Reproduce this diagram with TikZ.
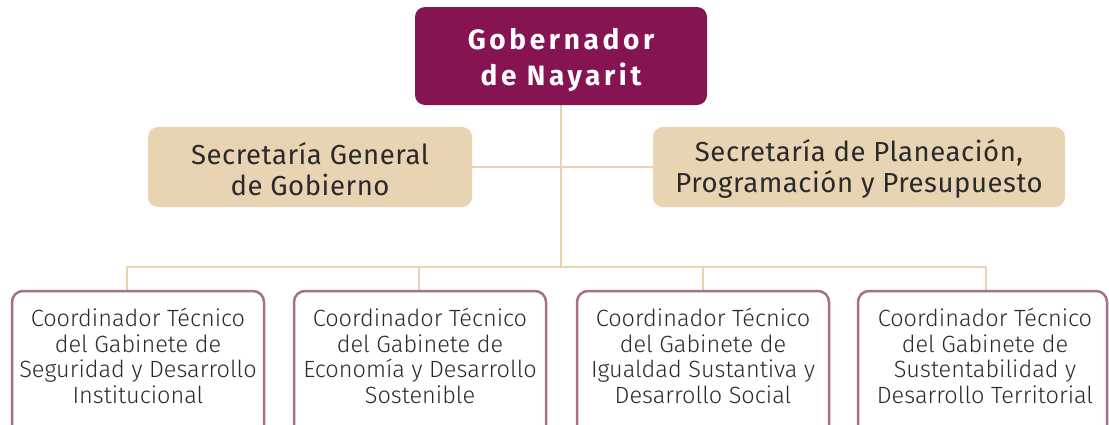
\documentclass[tikz,border=0pt]{standalone}
\usepackage{fontspec}
\setmainfont{Fira Sans}
\newfontfamily\lightfont{Fira Sans Light}
\definecolor{maroon}{HTML}{861453}
\definecolor{beige}{HTML}{E8D3B3}
\definecolor{linec}{HTML}{EBD3B1}
\definecolor{bord}{HTML}{A86F8C}
\definecolor{txt}{HTML}{2A2A2A}
\tikzset{
  topbox/.style={fill=maroon,rounded corners=10pt},
  secbox/.style={fill=beige,rounded corners=10pt},
  toptext/.style={text=white,font=\fontsize{28}{36}\selectfont\bfseries,align=center},
  sectext/.style={text=txt,font=\fontsize{27.5}{31}\selectfont,align=center},
  coord/.style={draw=bord,line width=2.5pt,rounded corners=11pt,fill=white},
  ctext/.style={text=txt,font=\lightfont\fontsize{23.5}{25.5}\selectfont,align=center},
  conn/.style={draw=linec,line width=2.5pt}
}
\begin{document}
\begin{tikzpicture}[x=1pt,y=-1pt]
\useasboundingbox (0,0) rectangle (1109,424);
\clip (0,0) rectangle (1109,424);
% connectors
\coordinate (bus) at (561,267);
\draw[conn] (561,105) -- (bus);
\draw[conn] (472,167) -- (653,167);
\draw[conn] (127,290) -- (127,267) -- (986,267) -- (986,290);
\draw[conn] (419,267) -- (419,290);
\draw[conn] (703,267) -- (703,290);
% top
\fill[topbox] (415,7) rectangle (707,105);
\node[toptext] (gob) at (561,60) {\addfontfeatures{LetterSpace=13}Gobernador\\\addfontfeatures{LetterSpace=13}de Nayarit};
% secretarias
\fill[secbox] (148,127) rectangle (472,207);
\node[sectext] (sg) at (310,169) {\addfontfeatures{LetterSpace=2}Secretaría General\\\addfontfeatures{LetterSpace=2}de Gobierno};
\fill[secbox] (653,127) rectangle (1065,207);
\node[sectext] (sp) at (859,169) {\addfontfeatures{LetterSpace=2}Secretaría de Planeación,\\\addfontfeatures{LetterSpace=2}Programación y Presupuesto};
% coordinators
\draw[coord] (12,291) rectangle (264,440);
\draw[coord] (294,291) rectangle (546,440);
\draw[coord] (577,291) rectangle (829,440);
\draw[coord] (858,291) rectangle (1107,440);
\node[ctext] (c1) at (138,356) {Coordinador Técnico\\del Gabinete de\\Seguridad y Desarrollo\\Institucional};
\node[ctext] (c2) at (420,356) {Coordinador Técnico\\del Gabinete de\\Economía y Desarrollo\\Sostenible};
\node[ctext] (c3) at (703,356) {Coordinador Técnico\\del Gabinete de\\Igualdad Sustantiva y\\Desarrollo Social};
\node[ctext] (c4) at (985,356) {Coordinador Técnico\\del Gabinete de\\Sustentabilidad y\\Desarrollo Territorial};
\end{tikzpicture}
\end{document}
